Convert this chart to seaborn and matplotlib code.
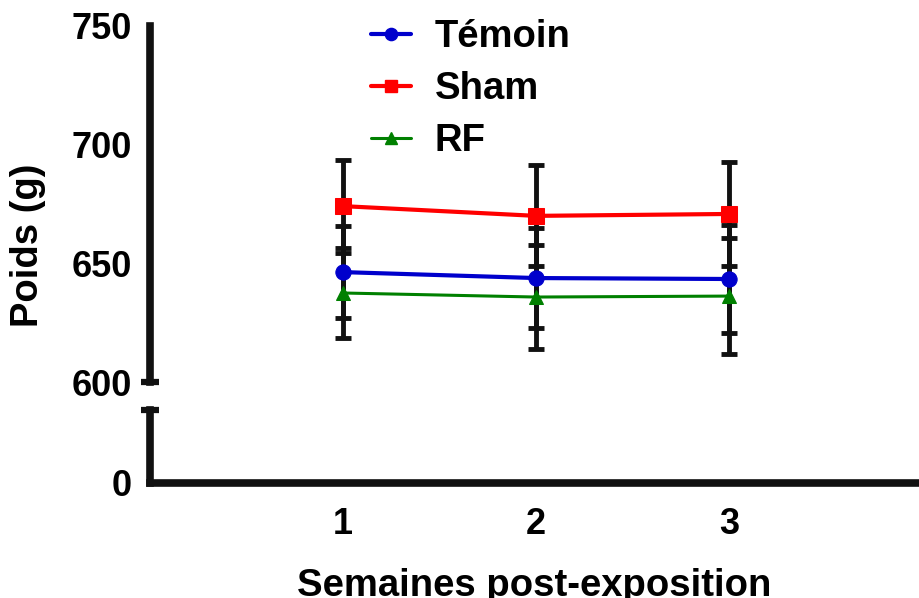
import matplotlib
matplotlib.use("Agg")
import matplotlib.pyplot as plt
import seaborn as sns
import pandas as pd
import numpy as np
from matplotlib.lines import Line2D

weeks = [1, 2, 3]
groups = ["Témoin", "Sham", "RF"]
temoin_mean = [646.3, 643.8, 643.4]
sham_mean = [674.1, 670.0, 670.8]
rf_mean = [637.5, 635.8, 636.2]
temoin_sd = [19.4, 21.2, 22.7]
sham_sd = [19.6, 21.3, 22.1]
rf_sd = [18.8, 21.9, 24.4]
y_ticks_upper = [600, 650, 700, 750]
y_ticks_lower = [0]
x_ticks = [1, 2, 3]

sns.set_theme(style="white")
plt.rcParams['font.family'] = ['Liberation Sans', 'DejaVu Sans']
plt.rcParams['font.weight'] = 'bold'
plt.rcParams['text.color'] = 'black'
plt.rcParams['axes.labelcolor'] = 'black'
plt.rcParams['xtick.color'] = 'black'
plt.rcParams['ytick.color'] = 'black'

means = {"Témoin": temoin_mean, "Sham": sham_mean, "RF": rf_mean}
sds = {"Témoin": temoin_sd, "Sham": sham_sd, "RF": rf_sd}
colors = {"Témoin": "#0000CC", "Sham": "#FF0000", "RF": "#008000"}
markers = {"Témoin": "o", "Sham": "s", "RF": "^"}
msizes = {"Témoin": 11, "Sham": 11, "RF": 10}
lws = {"Témoin": 3, "Sham": 3, "RF": 2.2}

rows = []
for g in groups:
    for w, m in zip(weeks, means[g]):
        rows.append({"Semaine": w, "Poids": m, "Groupe": g})
df = pd.DataFrame(rows)

W, H = 919, 598
fig = plt.figure(figsize=(W / 100, H / 100), dpi=100)
left = 150 / W
width = 1 - left
ax_top = fig.add_axes([left, 1 - 382 / H, width, (382 - 26) / H])
ax_bot = fig.add_axes([left, 1 - 483 / H, width, (483 - 410) / H])

spine_lw = 5.5
xmax = 769 / 193
axis_col = "#111111"

for ax in (ax_top, ax_bot):
    ax.set_facecolor("none")
    ax.set_xlim(0, xmax)
    for s in ax.spines.values():
        s.set_linewidth(spine_lw)
        s.set_color(axis_col)
    ax.spines["right"].set_visible(False)
    ax.spines["top"].set_visible(False)
    ax.tick_params(axis="both", which="major", direction="out", length=7,
                   width=4.5, color=axis_col, labelcolor="black", labelsize=26, pad=6)
    ax.grid(False)

ax_top.spines["bottom"].set_visible(False)
ax_top.set_ylim(600, 750)
ax_top.set_yticks(y_ticks_upper)
ax_top.set_xticks([])
ax_bot.set_ylim(0, 30)
ax_bot.set_yticks(y_ticks_lower)
ax_bot.set_xticks(x_ticks)
ax_bot.tick_params(axis="x", pad=10)

for lbl in ax_top.get_yticklabels() + ax_bot.get_yticklabels() + ax_bot.get_xticklabels():
    lbl.set_fontweight("bold")

# break caps
d = 9 / (W * width)
ax_top.plot([-d, d], [0, 0], transform=ax_top.transAxes, color=axis_col,
            lw=4.5, clip_on=False, solid_capstyle="butt")
ax_bot.plot([-d, d], [1, 1], transform=ax_bot.transAxes, color=axis_col,
            lw=4.5, clip_on=False, solid_capstyle="butt")

# error bars
for g in groups:
    ax_top.errorbar(weeks, means[g], yerr=sds[g], fmt="none", ecolor="#111111",
                    elinewidth=3.5, capsize=5.8, capthick=3.5, zorder=2)

sns.lineplot(data=df, x="Semaine", y="Poids", hue="Groupe", style="Groupe",
             hue_order=groups, style_order=groups, palette=colors,
             markers=markers, dashes=False, ax=ax_top, legend=False,
             zorder=3)
for line, g in zip(ax_top.get_lines()[-3:], groups):
    line.set_markersize(msizes[g])
    line.set_linewidth(lws[g])
    line.set_markeredgecolor(colors[g])
    line.set_zorder(3)

handles = [Line2D([], [], color=colors[g], marker=markers[g], lw=lws[g],
                  markersize=msizes[g] * 0.8, markeredgecolor=colors[g]) for g in groups]
leg = ax_top.legend(handles, groups, loc="upper left",
                    bbox_to_anchor=(371 / W, 1 - 19 / H), bbox_transform=fig.transFigure,
                    frameon=False, prop={"size": 27.5, "weight": "bold"},
                    handlelength=1.05, handletextpad=0.62, labelspacing=0.42,
                    borderpad=0, borderaxespad=0)
for t in leg.get_texts():
    t.set_color("black")

ax_top.set_xlabel("")
ax_top.set_ylabel("")
ax_bot.set_ylabel("")
ax_bot.set_xlabel("Semaines post-exposition", fontsize=27.5, fontweight="bold",
                  labelpad=19, color="black")

fig.text(28 / W, 1 - 245 / H, "Poids (g)", rotation=90, ha="center", va="center",
         fontsize=27.5, fontweight="bold", color="black")

fig.savefig("out.png", dpi=100)
